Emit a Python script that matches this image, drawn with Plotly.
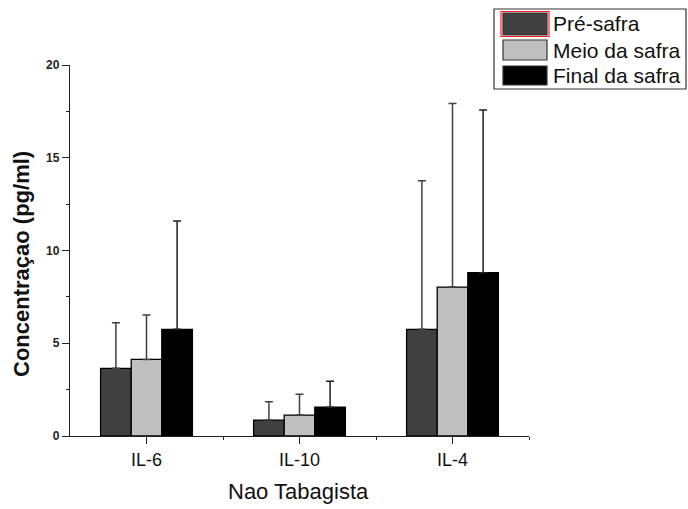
import plotly.graph_objects as go

# Cytokine concentrations (pg/ml) for non-smokers across harvest periods
categories = ["IL-6", "IL-10", "IL-4"]
series_names = ["Pré-safra", "Meio da safra", "Final da safra"]
means = {
    "Pré-safra": [3.65, 0.86, 5.75],
    "Meio da safra": [4.13, 1.13, 8.03],
    "Final da safra": [5.75, 1.55, 8.80],
}
errors = {
    "Pré-safra": [2.46, 0.99, 8.01],
    "Meio da safra": [2.39, 1.12, 9.90],
    "Final da safra": [5.84, 1.40, 8.77],
}
fill_colors = {
    "Pré-safra": "#404040",
    "Meio da safra": "#c0c0c0",
    "Final da safra": "#000000",
}
err_colors = {
    "Pré-safra": "#404040",
    "Meio da safra": "#404040",
    "Final da safra": "#202020",
}
y_ticks = [0, 5, 10, 15, 20]

W, H = 688, 509
ML, MR, MT, MB = 70, 159, 65, 73
PW, PH = W - ML - MR, H - MT - MB

FONT = "Liberation Sans, Arial, sans-serif"

fig = go.Figure()
xpos = list(range(len(categories)))
for name in series_names:
    fig.add_trace(go.Bar(
        x=xpos,
        y=means[name],
        name=name,
        marker=dict(color=fill_colors[name], line=dict(color="#000000", width=1.3)),
        error_y=dict(type="data", symmetric=False, array=errors[name],
                     arrayminus=[0] * len(categories),
                     color=err_colors[name], thickness=1.5, width=4),
        showlegend=False,
    ))


def px_x(px):
    return (px - ML) / PW


def px_y(py):
    return (H - MB - py) / PH


# Legend box drawn with large swatches
shapes = [dict(type="rect", xref="paper", yref="paper",
               x0=px_x(494), x1=px_x(686), y0=px_y(89), y1=px_y(9),
               line=dict(color="#333333", width=1.2), fillcolor="white")]
annotations = []
rows = [(13, 35), (40, 60), (66, 85)]
for i, name in enumerate(series_names):
    top, bot = rows[i]
    if i == 0:
        shapes.append(dict(type="rect", xref="paper", yref="paper",
                           x0=px_x(501), x1=px_x(549), y0=px_y(bot + 1.5), y1=px_y(top - 1.5),
                           line=dict(color="#ff2020", width=1.2), fillcolor="rgba(0,0,0,0)"))
    shapes.append(dict(type="rect", xref="paper", yref="paper",
                       x0=px_x(503), x1=px_x(547), y0=px_y(bot), y1=px_y(top),
                       line=dict(color="#333333", width=1.2), fillcolor=fill_colors[name]))
    annotations.append(dict(xref="paper", yref="paper", x=px_x(551), y=px_y((top + bot) / 2),
                            text=name, showarrow=False, xanchor="left", yanchor="middle",
                            font=dict(family=FONT, size=21, color="#111111")))

# Axis titles
annotations.append(dict(xref="paper", yref="paper", x=px_x(21), y=px_y(264),
                        text="<b>Concentraçao (pg/ml)</b>", textangle=-90, showarrow=False,
                        xanchor="center", yanchor="middle",
                        font=dict(family=FONT, size=22, color="#111111")))
annotations.append(dict(xref="paper", yref="paper", x=px_x(298), y=px_y(491),
                        text="Nao Tabagista", showarrow=False,
                        xanchor="center", yanchor="middle",
                        font=dict(family=FONT, size=22, color="#111111")))

fig.update_layout(
    width=W, height=H,
    margin=dict(l=ML, r=MR, t=MT, b=MB, pad=0),
    paper_bgcolor="white", plot_bgcolor="white",
    barmode="group", bargap=0.4, bargroupgap=0,
    shapes=shapes, annotations=annotations,
    font=dict(family=FONT, color="#111111"),
)
fig.update_xaxes(
    range=[-0.5, 2.5], tickmode="array", tickvals=xpos, ticktext=categories,
    ticks="outside", ticklen=7, tickwidth=1.2, tickcolor="#222222",
    showline=True, linecolor="#222222", linewidth=1.3, showgrid=False, zeroline=False,
    tickfont=dict(family=FONT, size=18, color="#111111"),
    minor=dict(tickvals=[0.5, 1.5, 2.5], ticks="outside", ticklen=3,
               tickwidth=1.2, tickcolor="#222222", showgrid=False),
)
fig.update_yaxes(
    range=[0, 20], tickmode="array", tickvals=y_ticks,
    ticktext=["<b>%d</b>" % v for v in y_ticks],
    ticks="outside", ticklen=7, tickwidth=1.2, tickcolor="#222222",
    showline=True, linecolor="#222222", linewidth=1.3, showgrid=False, zeroline=False,
    tickfont=dict(family=FONT, size=12, color="#222222"),
    minor=dict(tickvals=[2.5, 7.5, 12.5, 17.5], ticks="outside", ticklen=3,
               tickwidth=1.2, tickcolor="#222222", showgrid=False),
)

fig.write_html("out.html")
